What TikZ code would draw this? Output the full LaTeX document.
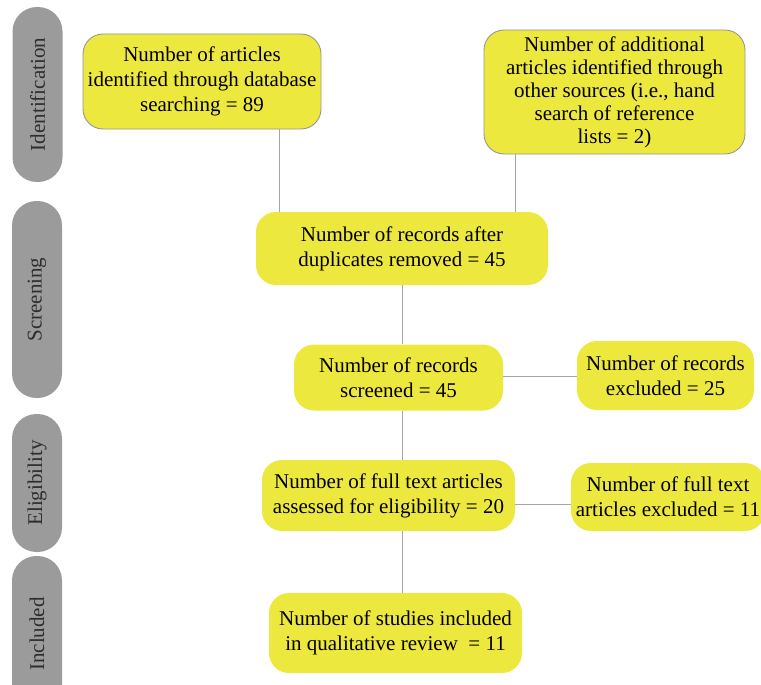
\documentclass[tikz,border=0pt]{standalone}
\usepackage{fontspec}
\setmainfont{Liberation Serif}
\definecolor{boxyellow}{RGB}{237,232,62}
\definecolor{pillgray}{RGB}{155,155,155}
\definecolor{edgegray}{RGB}{150,150,150}
\definecolor{linegray}{RGB}{165,165,165}
\definecolor{labeltext}{RGB}{45,45,45}
\begin{document}
\begin{tikzpicture}[x=1pt,y=-1pt,
  box/.style={fill=boxyellow, rounded corners=20pt, inner sep=0pt, align=center,
    font=\fontsize{21}{25}\selectfont, text=black},
  boxb/.style={box, draw=edgegray, line width=0.9pt},
  pill/.style={fill=pillgray, rounded corners=24.5pt, inner sep=0pt, rotate=90,
    minimum height=50pt, text=labeltext, font=\fontsize{21}{24}\selectfont},
  conn/.style={draw=linegray, line width=1pt}]
\clip (0,0) rectangle (761,685);
% phase pills
\node[pill, minimum width=175pt] (p1) at (37.5,94.5) {Identification};
\node[pill, minimum width=197pt] (p2) at (37,299.5) {Screening};
\node[pill, minimum width=138pt] (p3) at (37,483) {Eligibility};
\node[pill, minimum width=156pt] (p4) at (37,634) {Included};
% boxes
\node[boxb, minimum width=238pt, minimum height=95pt] (a) at (202,81.5)
  {Number of articles\\identified through database\\searching = 89};
\node[boxb, minimum width=261pt, minimum height=124pt, font=\fontsize{21}{23}\selectfont] (b) at (614.5,92)
  {Number of additional\\articles identified through\\other sources (i.e., hand\\search of reference\\lists = 2)};
\node[box, minimum width=292pt, minimum height=73pt] (c) at (402,248.5)
  {Number of records after\\duplicates removed = 45};
\node[box, minimum width=209pt, minimum height=66pt] (d) at (398.5,377.5)
  {Number of records\\screened = 45};
\node[box, minimum width=177pt, minimum height=69pt] (e) at (665.5,375.5)
  {Number of records\\excluded = 25};
\node[box, minimum width=253pt, minimum height=71pt] (f) at (388.5,495.5)
  {Number of full text articles\\assessed for eligibility = 20};
\node[box, minimum width=253pt, minimum height=80pt] (g) at (395.5,633)
  {Number of studies included\\in qualitative review\ \ = 11};
\node[box, minimum width=194pt, minimum height=68pt] (h) at (668,497)
  {Number of full text\\articles excluded = 11};
% connectors
\draw[conn] ([xshift=77pt]a.south) -- ([xshift=77pt]a.south |- c.north);
\draw[conn] ([xshift=-99.5pt]b.south) -- ([xshift=-99.5pt]b.south |- c.north);
\draw[conn] (c.south) -- (c.south |- d.north);
\draw[conn] (c.south |- d.south) -- (c.south |- f.north);
\draw[conn] (c.south |- f.south) -- (c.south |- g.north);
\draw[conn] ([yshift=1.5pt]d.east) -- ([yshift=1.5pt]d.east -| e.west);
\draw[conn] ([yshift=-9pt]f.east) -- ([yshift=-9pt]f.east -| h.west);
\end{tikzpicture}
\end{document}
